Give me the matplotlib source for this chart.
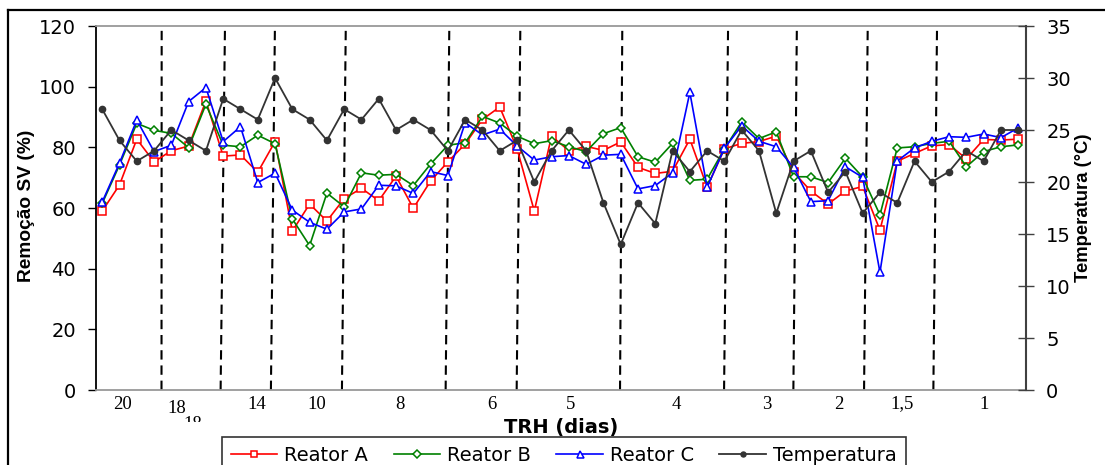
# remocao de SV dos tres reatores e temperatura ao longo da operacao (TRH em dias)

import numpy as np
import matplotlib
matplotlib.use('Agg')
import matplotlib.pyplot as plt
from matplotlib.lines import Line2D
from matplotlib.transforms import Bbox, TransformedBbox, ScaledTranslation

# remocao de SV (%) de cada reator, uma amostra por ponto
reator_a = [59.0, 67.6, 82.7, 75.2, 78.9, 80.4, 95.3, 77.1, 77.5, 71.8,
            81.9, 52.4, 61.3, 55.7, 63.1, 66.5, 62.4, 70.5, 59.9, 68.9,
            75.2, 81.1, 89.2, 93.3, 79.6, 59.0, 83.7, 78.9, 80.3, 79.0,
            81.8, 73.4, 71.4, 72.1, 82.7, 66.9, 79.5, 81.3, 81.9, 83.7,
            71.8, 65.6, 61.3, 65.6, 67.1, 52.7, 75.4, 78.0, 80.5, 80.9,
            76.2, 82.6, 82.4, 82.7]
reator_b = [61.5, 74.2, 87.9, 85.6, 84.6, 79.9, 94.2, 80.7, 80.2, 84.0,
            81.2, 56.4, 47.6, 64.9, 60.4, 71.6, 70.8, 71.1, 67.4, 74.5,
            80.7, 81.5, 90.2, 88.0, 83.7, 81.2, 82.2, 80.2, 78.6, 84.5,
            86.5, 76.9, 75.1, 81.3, 69.1, 69.5, 79.5, 88.4, 82.9, 85.1,
            70.3, 70.3, 68.4, 76.4, 70.2, 57.7, 79.8, 80.2, 81.3, 82.0,
            73.6, 78.6, 80.2, 80.8]
reator_c = [62.0, 74.8, 89.0, 78.6, 80.7, 95.1, 99.7, 81.9, 86.8, 68.4,
            71.5, 59.3, 55.3, 53.0, 58.7, 59.7, 67.5, 67.3, 64.8, 72.0,
            70.7, 88.1, 84.1, 86.0, 80.5, 75.8, 76.9, 77.3, 74.4, 77.4,
            77.7, 66.3, 67.4, 71.6, 98.1, 66.8, 79.7, 87.1, 82.0, 80.2,
            73.4, 62.1, 62.4, 73.6, 70.1, 38.8, 75.5, 79.8, 82.0, 83.5,
            83.3, 84.4, 83.2, 86.4]

# temperatura (C)
temperatura = [27, 24, 22, 23, 25, 24, 23, 28, 27, 26,
               30, 27, 26, 24, 27, 26, 28, 25, 26, 25,
               23, 26, 25, 23, 24, 20, 23, 25, 23, 18,
               14, 18, 16, 23, 21, 23, 22, 25, 23, 17,
               22, 23, 19, 21, 17, 19, 18, 22, 20, 21,
               23, 22, 25, 25]

# TRH de cada fase e posicao do rotulo (em numero de amostras)
trh_labels = ['20', '18', '14', '10', '8', '6', '5', '4', '3', '2', '1,5', '1']
trh_pos = [1.2, 4.3, 8.95, 12.4, 17.2, 22.55, 27.1, 33.2, 38.45, 42.6, 46.3, 51.0]

# divisoes entre as fases (base e topo, as linhas do original sao um pouco inclinadas)
div_base = [3.43, 6.85, 9.76, 13.87, 19.87, 23.98, 29.96, 35.98, 39.99, 44.08, 48.09]
div_topo = [3.44, 7.10, 9.99, 14.09, 20.08, 24.19, 30.09, 36.21, 40.19, 44.29, 48.30]

W, H = 1105, 465
fig = plt.figure(figsize=(W / 100, H / 100), dpi=100)
ax = fig.add_axes([96 / W, 1 - 390 / H, (1026 - 96) / W, (390 - 26) / H])
ax2 = ax.twinx()

x = np.arange(len(reator_a))

# linhas tracejadas separando as fases
for xb, xt in zip(div_base, div_topo):
    ax.plot([xb, xt], [0, 118.5], color='black', lw=1.5, ls=(0, (4.5, 2.8)), zorder=1)

la, = ax.plot(x, reator_a, color='#ff0000', lw=1.2, marker='s', ms=5.3,
              mfc='white', mec='#ff0000', mew=1.1, label='Reator A', zorder=3)
lb, = ax.plot(x, reator_b, color='#008000', lw=1.2, marker='D', ms=4.5,
              mfc='white', mec='#008000', mew=1.1, label='Reator B', zorder=3)
lc, = ax.plot(x, reator_c, color='#0000ff', lw=1.2, marker='^', ms=6.3,
              mfc='white', mec='#0000ff', mew=1.1, label='Reator C', zorder=4)
lt, = ax2.plot(x, temperatura, color='#333333', lw=1.3, marker='o', ms=4.5,
               label='Temperatura')

ax.set_xlim(-0.36, 53.45)
ax.set_ylim(0, 120)
ax2.set_ylim(0, 35)

# eixo esquerdo
ax.set_yticks(np.arange(0, 121, 20))
ax.tick_params(axis='y', direction='out', length=6, width=1, color='black',
               pad=8.5, labelsize=14)
ax.tick_params(axis='x', length=0, pad=4)
ax.set_xticks(trh_pos)
ax.set_xticklabels(trh_labels, family='Liberation Serif', fontsize=13.5)
for lbl in ax.get_xticklabels():
    if lbl.get_text() == '18':
        lbl.set_transform(lbl.get_transform() + ScaledTranslation(0, -4 / 100, fig.dpi_scale_trans))

# eixo direito
ax2.set_yticks(np.arange(0, 36, 5))
ax2.tick_params(axis='y', direction='inout', length=11, width=1, color='#404040',
                pad=9, labelsize=14)

for sp in ['top', 'bottom']:
    ax.spines[sp].set_color('#999999')
    ax.spines[sp].set_linewidth(1.3)
ax.spines['left'].set_color('black')
ax.spines['left'].set_linewidth(1.3)
ax.spines['right'].set_visible(False)
for sp in ['top', 'bottom', 'left']:
    ax2.spines[sp].set_visible(False)
ax2.spines['right'].set_color('#404040')
ax2.spines['right'].set_linewidth(1.5)

# titulos dos eixos
fig.text(27 / W, 1 - 206 / H, 'Remoção SV (%)', rotation=90, ha='center', va='center',
         family='Liberation Sans', fontweight='bold', fontsize=13.8)
fig.text(1084 / W, 1 - 208 / H, 'Temperatura (°C)', rotation=90, ha='center', va='center',
         family='Liberation Sans', fontweight='bold', fontsize=13.3)
fig.text(561 / W, 1 - 427 / H, 'TRH (dias)', ha='center', va='center',
         fontweight='bold', fontsize=14)

# rotulo "18" cortado que aparece no original
t = fig.text(193 / W, 1 - 416 / H, '18', ha='center', va='top',
             family='Liberation Serif', fontsize=13.5)
t.set_clip_box(TransformedBbox(Bbox([[0, 1 - 422 / H], [1, 1]]), fig.transFigure))
t.set_clip_on(True)

# legenda
leg = fig.legend(handles=[la, lb, lc, lt], loc='upper left',
                 bbox_to_anchor=(222 / W, 1 - 437 / H), bbox_transform=fig.transFigure,
                 ncol=4, fontsize=14, frameon=True, fancybox=False, borderaxespad=0,
                 handlelength=2.4, handletextpad=0.36, columnspacing=1.3,
                 borderpad=0.45, markerscale=0.8)
leg.get_frame().set_edgecolor('black')
leg.get_frame().set_linewidth(1.2)

# moldura externa
fig.add_artist(Line2D([8 / W, 8 / W], [0, 1 - 10 / H], transform=fig.transFigure,
                      color='black', lw=1.6))
fig.add_artist(Line2D([8 / W, 1], [1 - 10 / H, 1 - 10 / H], transform=fig.transFigure,
                      color='black', lw=1.6))

fig.savefig('out.png', dpi=100, facecolor='white')
